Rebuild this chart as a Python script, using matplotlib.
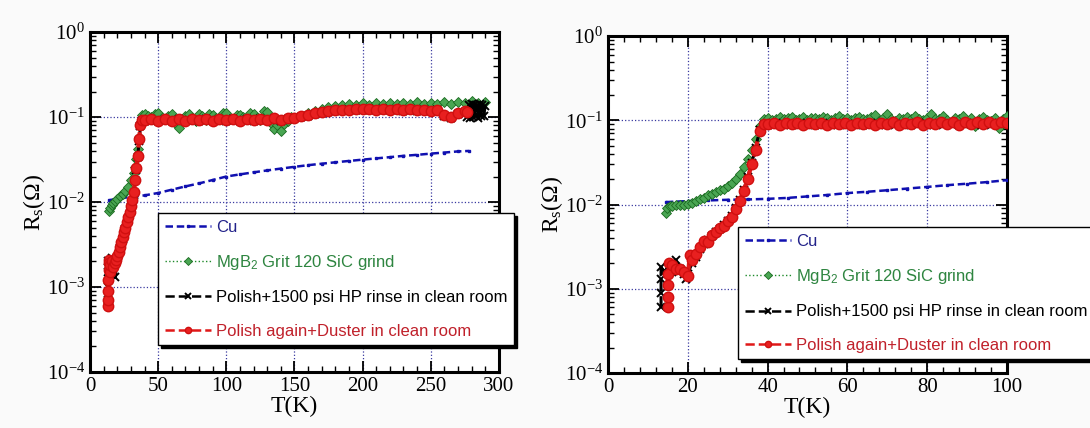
import math
import matplotlib
matplotlib.use('Agg')
import matplotlib.pyplot as plt
from matplotlib.ticker import FixedLocator, FuncFormatter, LogLocator, MultipleLocator

plt.rcParams['font.family'] = ['Liberation Serif', 'DejaVu Serif']
plt.rcParams['mathtext.fontset'] = 'custom'
plt.rcParams['mathtext.rm'] = 'Liberation Serif'
plt.rcParams['mathtext.it'] = 'Liberation Serif:italic'

# ---------------- left panel (0-300 K) ----------------
cuL_T = [14, 20, 30, 40, 50, 60, 70, 80, 90, 100, 110, 120, 130, 140, 150, 160, 170, 180,
         190, 200, 210, 220, 230, 240, 250, 260, 270, 278]
cuL_R = [0.0105, 0.011, 0.0115, 0.012, 0.0128, 0.014, 0.0153, 0.0166, 0.0182, 0.020, 0.0212,
         0.0224, 0.0236, 0.0248, 0.026, 0.0272, 0.0283, 0.0294, 0.0305, 0.0316, 0.0327,
         0.0338, 0.035, 0.036, 0.0372, 0.0383, 0.0395, 0.040]

mgL_T = [14, 15, 16, 17, 18, 20, 22, 24, 26, 28, 30, 32, 33, 34, 35, 36, 37, 38,
         40, 42.5, 45, 47.5, 50, 52.5, 55, 57.5, 60, 62.5, 65, 67.5, 70, 72.5, 75, 77.5,
         80, 82.5, 85, 87.5, 90, 92.5, 95, 97.5, 100, 102.5, 105, 107.5, 110, 112.5, 115,
         117.5, 120, 122.5, 125, 127.5, 130, 132.5, 135, 137.5, 140, 142.5, 145, 147.5,
         150, 155, 160, 165, 170, 175, 180, 185, 190, 195, 200, 205,
         210, 215, 220, 225, 230, 235, 240, 245, 250, 255, 260, 265, 270, 275, 280, 285, 290]
mgL_R = [0.0078, 0.0085, 0.0092, 0.0098, 0.0102, 0.011, 0.0118, 0.0125, 0.0135, 0.015, 0.018,
         0.022, 0.026, 0.032, 0.042, 0.058, 0.08, 0.105,
         0.108, 0.102, 0.100, 0.110, 0.112, 0.098, 0.095, 0.104, 0.108, 0.085, 0.075, 0.092,
         0.104, 0.110, 0.098, 0.090, 0.110, 0.102, 0.092, 0.108, 0.106, 0.098, 0.099, 0.111,
         0.112, 0.096, 0.094, 0.105, 0.107, 0.100, 0.098, 0.112, 0.109, 0.099, 0.093, 0.118,
         0.115, 0.085, 0.072, 0.080, 0.068, 0.082, 0.090, 0.100,
         0.098, 0.104, 0.112, 0.118, 0.125, 0.130, 0.134, 0.138, 0.142, 0.140, 0.145, 0.140,
         0.146, 0.141, 0.147, 0.142, 0.148, 0.142, 0.149, 0.143, 0.148, 0.141, 0.150, 0.144,
         0.152, 0.146, 0.153, 0.147, 0.150]

hpL_T = [13.3, 13.3, 13.3, 13.4, 14, 16, 17, 18.5, 20, 22, 24, 26, 28, 30, 32, 34, 35, 36, 37, 38,
         40, 45, 50, 55, 60, 65, 70, 75, 80, 85, 90, 95, 100, 105, 110, 115, 120, 125, 130,
         135, 140, 145, 150, 155, 160, 165, 170, 175, 180, 185, 190, 195, 200, 205, 210, 215,
         220, 225, 230, 235, 240, 245, 250, 255, 260, 265, 270, 275, 277, 278, 279, 280, 281,
         282, 283, 284, 285, 286, 287, 288, 289, 290]
hpL_R = [0.0007, 0.0010, 0.0015, 0.0020, 0.0018, 0.0022, 0.0017, 0.0013, 0.0022, 0.0029, 0.0037,
         0.0048, 0.0064, 0.0088, 0.012, 0.024, 0.034, 0.053, 0.078, 0.090,
         0.090, 0.093, 0.089, 0.092, 0.090, 0.094, 0.089, 0.093, 0.091, 0.094, 0.090, 0.093,
         0.091, 0.095, 0.090, 0.094, 0.091, 0.095, 0.092, 0.096, 0.091, 0.095, 0.097, 0.101,
         0.104, 0.109, 0.112, 0.116, 0.118, 0.121, 0.120, 0.123, 0.122, 0.124, 0.121, 0.124,
         0.120, 0.123, 0.119, 0.122, 0.118, 0.121, 0.117, 0.120, 0.104, 0.099, 0.110, 0.116,
         0.100, 0.140, 0.098, 0.142, 0.100, 0.140, 0.103, 0.138, 0.098, 0.141, 0.102, 0.139,
         0.104, 0.136]

duL_T = [13.5, 13.5, 13.5, 13.5, 13.6, 13.7, 14, 14.5, 15, 16, 17, 18, 19, 20, 21, 22, 23,
         24, 25, 26, 27, 28, 29, 30, 31, 32, 33, 34, 35, 36, 37, 38,
         40, 45, 50, 55, 60, 65, 70, 75, 80, 85, 90, 95, 100, 105, 110, 115, 120, 125, 130,
         135, 140, 145, 150, 155, 160, 165, 170, 175, 180, 185, 190, 195, 200, 205, 210, 215,
         220, 225, 230, 235, 240, 245, 250, 255, 260, 265, 270, 275, 277]
duL_R = [0.0006, 0.0007, 0.0009, 0.0012, 0.0016, 0.0021, 0.0019, 0.0015, 0.0018, 0.0020,
         0.0017, 0.0019, 0.0021, 0.0023, 0.0026, 0.0030, 0.0034, 0.0039, 0.0044, 0.0050,
         0.0058, 0.0066, 0.0076, 0.0090, 0.0105, 0.013, 0.018, 0.025, 0.035, 0.055, 0.080, 0.092,
         0.092, 0.095, 0.090, 0.094, 0.091, 0.095, 0.090, 0.094, 0.092, 0.096, 0.091, 0.095,
         0.092, 0.096, 0.091, 0.095, 0.092, 0.096, 0.093, 0.097, 0.092, 0.097, 0.098, 0.103,
         0.106, 0.111, 0.114, 0.118, 0.120, 0.123, 0.122, 0.125, 0.124, 0.126, 0.123, 0.126,
         0.122, 0.125, 0.121, 0.124, 0.120, 0.123, 0.119, 0.122, 0.105, 0.100, 0.112, 0.118, 0.115]

# ---------------- right panel (0-100 K) ----------------
cuR_T = [14.5, 20, 25, 30, 35, 40, 45, 50, 55, 60, 65, 70, 75, 80, 85, 90, 95, 100]
cuR_R = [0.0107, 0.011, 0.0112, 0.0114, 0.0115, 0.0117, 0.012, 0.0125, 0.013, 0.0137, 0.0142,
         0.0148, 0.0155, 0.0162, 0.0170, 0.0177, 0.0185, 0.0195]

mgR_T = [14.5, 14.8, 15.5, 16, 17, 18, 19, 20, 21, 22, 23, 24, 25, 26, 27, 28, 29, 30, 31, 32,
         33, 34, 35, 36, 37, 38, 39,
         40, 41, 42, 43, 44, 45, 46, 47, 48, 49, 50, 51, 52, 53, 54, 55, 56, 57, 58, 59, 60,
         61, 62, 63, 64, 65, 66, 67, 68, 69, 70, 71, 72, 73, 74, 75, 76, 77, 78, 79, 80,
         81, 82, 83, 84, 85, 86, 87, 88, 89, 90, 91, 92, 93, 94, 95, 96, 97, 98, 99, 100]
mgR_R = [0.008, 0.009, 0.0095, 0.0097, 0.0098, 0.0099, 0.0100, 0.0101, 0.0104, 0.011, 0.0115,
         0.012, 0.013, 0.0135, 0.014, 0.0148, 0.0155, 0.0165, 0.018, 0.020, 0.023, 0.028,
         0.035, 0.045, 0.060, 0.085, 0.105,
         0.108, 0.102, 0.104, 0.110, 0.103, 0.106, 0.109, 0.101, 0.105, 0.111, 0.102, 0.107,
         0.108, 0.104, 0.110, 0.106, 0.100, 0.107, 0.112, 0.104, 0.108, 0.101, 0.106, 0.111,
         0.103, 0.105, 0.109, 0.115, 0.098, 0.106, 0.120, 0.104, 0.098, 0.106, 0.104, 0.109,
         0.103, 0.112, 0.105, 0.101, 0.108, 0.118, 0.104, 0.105, 0.112, 0.100, 0.095, 0.108,
         0.104, 0.112, 0.092, 0.108, 0.085, 0.104, 0.110, 0.102, 0.098, 0.108, 0.082, 0.104,
         0.112]

hpR_T = [13.3, 13.3, 13.3, 13.3, 14, 15, 16, 17, 18, 19, 19.5, 20, 21, 22, 23, 24, 25, 26, 27, 28,
         29, 30, 31, 32, 33, 34, 35, 36, 37, 38, 39,
         40, 42, 44, 46, 48, 50, 52, 54, 56, 58, 60, 62, 64, 66, 68, 70, 72, 74, 76, 78, 80,
         82, 84, 86, 88, 90, 92, 94, 96, 98, 100]
hpR_R = [0.0006, 0.0009, 0.0013, 0.0018, 0.0016, 0.0018, 0.0016, 0.0022, 0.0017, 0.0015, 0.0013,
         0.0015, 0.0020, 0.0024, 0.0030, 0.0034, 0.0038, 0.0042, 0.0047, 0.0051, 0.0057,
         0.0064, 0.0074, 0.0090, 0.0112, 0.0148, 0.021, 0.031, 0.047, 0.076, 0.089,
         0.089, 0.092, 0.088, 0.091, 0.089, 0.093, 0.088, 0.092, 0.089, 0.092, 0.088, 0.091,
         0.089, 0.093, 0.088, 0.092, 0.089, 0.091, 0.088, 0.092, 0.089, 0.093, 0.088, 0.091,
         0.089, 0.092, 0.088, 0.093, 0.089, 0.092, 0.090]

duR_T = [15, 15, 15, 15, 15.2, 16, 17, 18, 19, 20, 20.5, 21, 22, 23, 24, 25, 26, 27, 28, 29, 30,
         31, 32, 33, 34, 35, 36, 37, 38, 39,
         40, 41.5, 43, 44.5, 46, 47.5, 49, 50.5, 52, 53.5, 55, 56.5, 58, 59.5, 61, 62.5, 64,
         65.5, 67, 68.5, 70, 71.5, 73, 74.5, 76, 77.5, 79, 80.5, 82, 83.5, 85, 86.5, 88, 89.5,
         91, 92.5, 94, 95.5, 97, 98.5, 100]
duR_R = [0.0006, 0.0008, 0.0011, 0.0015, 0.0020, 0.0019, 0.0017, 0.0017, 0.0016, 0.0014,
         0.0025, 0.0022, 0.0026, 0.0031, 0.0037, 0.0036, 0.0043, 0.0047, 0.0052, 0.0056,
         0.0063, 0.0072, 0.0088, 0.011, 0.0145, 0.020, 0.030, 0.045, 0.075, 0.090,
         0.091, 0.094, 0.089, 0.093, 0.090, 0.094, 0.089, 0.093, 0.090, 0.094, 0.089, 0.093,
         0.090, 0.094, 0.089, 0.093, 0.090, 0.094, 0.089, 0.093, 0.090, 0.095, 0.089, 0.094,
         0.090, 0.095, 0.089, 0.094, 0.090, 0.095, 0.091, 0.096, 0.089, 0.095, 0.091, 0.096,
         0.090, 0.095, 0.091, 0.096, 0.092]

labels = ['Cu', 'MgB$\\mathregular{_2}$ Grit 120 SiC grind',
          'Polish+1500 psi HP rinse in clean room', 'Polish again+Duster in clean room']
text_colors = ['#22228a', '#2e8540', 'black', '#c0202a']


def draw(ax, cu, mg, hp, du, xmax, xstep, xminor, leg_anchor):
    ax.plot(cu[0], cu[1], color='#1010b0', ls=(0, (3, 1.5)), lw=1.8, marker='s', ms=1.5,
            label=labels[0], zorder=3)
    ax.plot(mg[0], mg[1], color='#1e8a2a', ls=':', lw=1.0, marker='D', ms=5.5,
            mfc='#4aa653', mec='#1a6a20', mew=0.6, label=labels[1], zorder=4)
    ax.plot(hp[0], hp[1], color='black', ls='--', lw=2.2, marker='x', ms=6, mew=1.4,
            label=labels[2], zorder=5)
    ax.plot(du[0], du[1], color='#e01818', ls='--', lw=3.0, marker='o', ms=7.5,
            mfc='#e82020', mec='#d01010', label=labels[3], zorder=6)

    ax.set_yscale('log')
    ax.set_ylim(1e-4, 1)
    ax.set_xlim(0, xmax)
    ax.xaxis.set_major_locator(MultipleLocator(xstep))
    ax.xaxis.set_minor_locator(MultipleLocator(xminor))
    ax.yaxis.set_major_locator(FixedLocator([1e-4, 1e-3, 1e-2, 1e-1, 1]))
    ax.yaxis.set_minor_locator(LogLocator(base=10, subs=range(2, 10)))
    ax.yaxis.set_major_formatter(FuncFormatter(
        lambda v, p: '$\\mathregular{10^{%d}}$' % round(math.log10(v))))
    ax.tick_params(which='both', direction='in', top=True, right=True, labelsize=15)
    ax.tick_params(which='major', length=8, width=1.3)
    ax.tick_params(which='minor', length=4, width=1.0)
    for s in ax.spines.values():
        s.set_linewidth(2.2)
    ax.grid(True, which='major', color='#3a3aa0', ls=':', lw=0.9)
    ax.set_xlabel('T(K)', fontsize=17, labelpad=0)
    ax.set_ylabel('R$_\\mathregular{s}$(Ω)', fontsize=17, labelpad=0)

    leg = ax.legend(loc='upper left', bbox_to_anchor=leg_anchor, borderaxespad=0,
                    prop={'family': 'Liberation Sans', 'size': 12}, frameon=True,
                    fancybox=False, edgecolor='black', framealpha=1,
                    shadow={'color': 'black', 'alpha': 1}, handlelength=2.8,
                    handletextpad=0.3, labelspacing=1.1, borderpad=0.4)
    leg.get_frame().set_linewidth(1.0)
    leg.set_zorder(10)
    for h, ms, lw in zip(leg.legend_handles, [1.5, 4, 4.5, 4.5], [1.8, 1.0, 1.8, 1.8]):
        h.set_markersize(ms)
        h.set_linewidth(lw)
    for t, c in zip(leg.get_texts(), text_colors):
        t.set_color(c)


fig = plt.figure(figsize=(10.9, 4.28), dpi=100, facecolor='#fafafa')
ax1 = fig.add_axes([0.0826, 0.1308, 0.375, 0.794])
ax2 = fig.add_axes([0.5578, 0.1285, 0.366, 0.787])

draw(ax1, (cuL_T, cuL_R), (mgL_T, mgL_R), (hpL_T, hpL_R), (duL_T, duL_R),
     300, 50, 10, (0.166, 0.468))
draw(ax2, (cuR_T, cuR_R), (mgR_T, mgR_R), (hpR_T, hpR_R), (duR_T, duR_R),
     100, 20, 4, (0.326, 0.433))

fig.savefig('out.png', dpi=100, facecolor=fig.get_facecolor())
